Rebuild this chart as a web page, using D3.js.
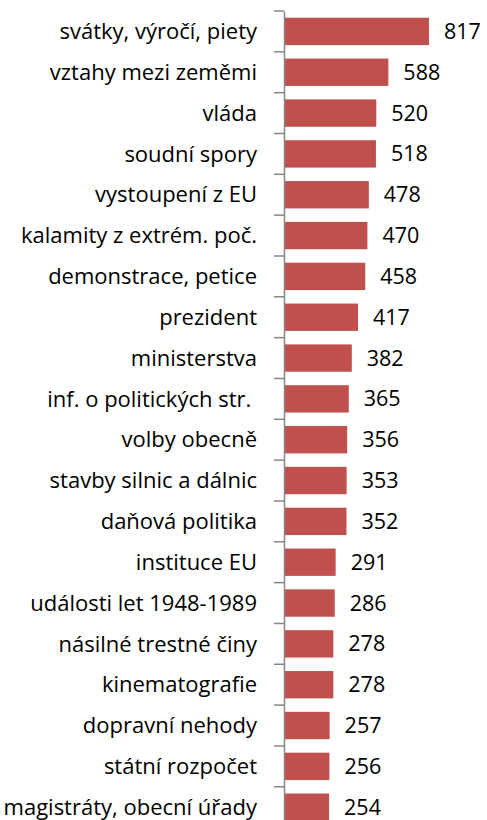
<!DOCTYPE html>
<html><head><meta charset="utf-8">
<script src="https://cdn.jsdelivr.net/npm/d3@7"></script>
<style>body{margin:0;background:#fff}svg{display:block}</style>
</head><body>
<script>
const categories = ["svátky, výročí, piety","vztahy mezi zeměmi","vláda","soudní spory","vystoupení z EU","kalamity z extrém. poč.","demonstrace, petice","prezident","ministerstva","inf. o politických str. ","volby obecně","stavby silnic a dálnic","daňová politika","instituce EU","události let 1948-1989","násilné trestné činy","kinematografie","dopravní nehody","státní rozpočet","magistráty, obecní úřady"];
const values = [817,588,520,518,478,470,458,417,382,365,356,353,352,291,286,278,278,257,256,254];

const W = 487, H = 820;
const axisX = 284;
const svg = d3.select("body").append("svg").attr("width", W).attr("height", H);
const x = d3.scaleLinear().domain([0, 817]).range([axisX, 429]);
const y = d3.scaleBand().domain(categories).range([11, 11 + 20 * 40.83]).paddingInner(0.33).paddingOuter(0.165);
const font = "'Open Sans', Lato, sans-serif";

svg.selectAll("rect.bar").data(values).join("rect")
  .attr("x", axisX).attr("y", (d, i) => y(categories[i]))
  .attr("width", d => x(d) - axisX).attr("height", y.bandwidth())
  .attr("fill", "#C0504D");

const g = svg.append("g").attr("transform", `translate(${axisX},0)`);
g.call(d3.axisLeft(y).tickSize(0).tickSizeOuter(0).tickFormat(""));
g.selectAll(".tick").remove();
g.select(".domain").attr("stroke", "#868686").attr("stroke-width", 1.5);
const step = y.step();
const tickYs = d3.range(21).map(i => 11 + i * step);
g.selectAll("line.sep").data(tickYs).join("line")
  .attr("x1", -10).attr("x2", 0).attr("y1", d => d).attr("y2", d => d)
  .attr("stroke", "#868686").attr("stroke-width", 1.5);

svg.selectAll("text.cat").data(categories).join("text")
  .attr("x", 257).attr("y", d => y(d) + y.bandwidth() / 2)
  .attr("dy", "0.35em").attr("text-anchor", "end")
  .style("font-family", font).style("font-size", "22px").attr("fill", "#000")
  .style("white-space", "pre")
  .text(d => d);

svg.selectAll("text.val").data(values).join("text")
  .attr("x", d => x(d) + 15).attr("y", (d, i) => y(categories[i]) + y.bandwidth() / 2)
  .attr("dy", "0.35em")
  .style("font-family", font).style("font-size", "21.5px").attr("fill", "#000")
  .text(d => d);
</script>
</body></html>
